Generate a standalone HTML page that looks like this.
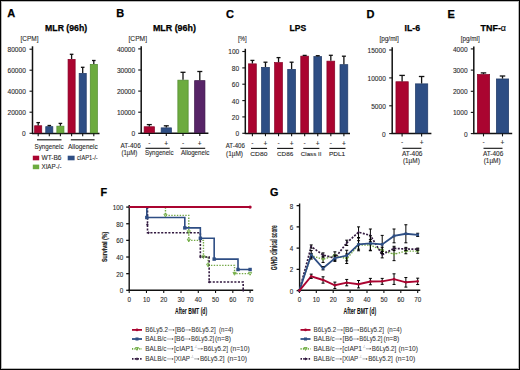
<!DOCTYPE html>
<html><head><meta charset="utf-8"><title>Figure</title>
<style>
html,body{margin:0;padding:0;background:#fff;}
body{width:520px;height:370px;overflow:hidden;}
svg{display:block;font-family:"Liberation Sans", sans-serif;}
</style></head><body>
<svg width="520" height="370" viewBox="0 0 520 370">
<rect x="0" y="0" width="520" height="370" fill="#fff"/>
<text x="7.2" y="17.4" font-size="11" font-weight="bold" fill="#000" stroke="#000" stroke-width="0.25">A</text>
<text x="45.1" y="30.9" font-size="8.6" font-weight="bold" fill="#000" textLength="42" lengthAdjust="spacingAndGlyphs" stroke="#000" stroke-width="0.25">MLR (96h)</text>
<text x="20.5" y="41.4" font-size="6.4" fill="#2a2a2a" textLength="18" lengthAdjust="spacingAndGlyphs" stroke="#2a2a2a" stroke-width="0.1">[CPM]</text>
<line x1="32.5" y1="46.3" x2="32.5" y2="134" stroke="#111" stroke-width="1.5"/>
<line x1="29.5" y1="49.2" x2="32.5" y2="49.2" stroke="#111" stroke-width="1.1"/>
<text x="25.8" y="52.19" font-size="6.4" text-anchor="end" fill="#2a2a2a" textLength="18.3" lengthAdjust="spacingAndGlyphs" stroke="#2a2a2a" stroke-width="0.1">80000</text>
<line x1="29.5" y1="70.2" x2="32.5" y2="70.2" stroke="#111" stroke-width="1.1"/>
<text x="25.8" y="73.19" font-size="6.4" text-anchor="end" fill="#2a2a2a" textLength="18.3" lengthAdjust="spacingAndGlyphs" stroke="#2a2a2a" stroke-width="0.1">60000</text>
<line x1="29.5" y1="91.2" x2="32.5" y2="91.2" stroke="#111" stroke-width="1.1"/>
<text x="25.8" y="94.19" font-size="6.4" text-anchor="end" fill="#2a2a2a" textLength="18.3" lengthAdjust="spacingAndGlyphs" stroke="#2a2a2a" stroke-width="0.1">40000</text>
<line x1="29.5" y1="112.2" x2="32.5" y2="112.2" stroke="#111" stroke-width="1.1"/>
<text x="25.8" y="115.19" font-size="6.4" text-anchor="end" fill="#2a2a2a" textLength="18.3" lengthAdjust="spacingAndGlyphs" stroke="#2a2a2a" stroke-width="0.1">20000</text>
<line x1="29.5" y1="133.3" x2="32.5" y2="133.3" stroke="#111" stroke-width="1.1"/>
<text x="25.8" y="136.29" font-size="6.4" text-anchor="end" fill="#2a2a2a" textLength="3.66" lengthAdjust="spacingAndGlyphs" stroke="#2a2a2a" stroke-width="0.1">0</text>
<line x1="32" y1="133.5" x2="99.5" y2="133.5" stroke="#111" stroke-width="1.5"/>
<rect x="34.65" y="125.75" width="7.1" height="7.15" fill="#aa0430" stroke="#860226" stroke-width="0.7"/>
<line x1="38.2" y1="125.4" x2="38.2" y2="122.6" stroke="#111" stroke-width="1.3"/>
<line x1="36.4" y1="122.6" x2="40" y2="122.6" stroke="#111" stroke-width="1.3"/>
<line x1="38.2" y1="133.5" x2="38.2" y2="136.3" stroke="#111" stroke-width="1.1"/>
<rect x="45.75" y="126.65" width="7.1" height="6.25" fill="#2e4e84" stroke="#203a66" stroke-width="0.7"/>
<line x1="49.3" y1="126.3" x2="49.3" y2="125.5" stroke="#111" stroke-width="1.3"/>
<line x1="47.5" y1="125.5" x2="51.1" y2="125.5" stroke="#111" stroke-width="1.3"/>
<line x1="49.3" y1="133.5" x2="49.3" y2="136.3" stroke="#111" stroke-width="1.1"/>
<rect x="56.85" y="126.15" width="7.1" height="6.75" fill="#6dab3f" stroke="#4f8a2c" stroke-width="0.7"/>
<line x1="60.4" y1="125.8" x2="60.4" y2="123.4" stroke="#111" stroke-width="1.3"/>
<line x1="58.6" y1="123.4" x2="62.2" y2="123.4" stroke="#111" stroke-width="1.3"/>
<line x1="60.4" y1="133.5" x2="60.4" y2="136.3" stroke="#111" stroke-width="1.1"/>
<rect x="68.05" y="59.35" width="7.1" height="73.55" fill="#aa0430" stroke="#860226" stroke-width="0.7"/>
<line x1="71.6" y1="59" x2="71.6" y2="54.3" stroke="#111" stroke-width="1.3"/>
<line x1="69.8" y1="54.3" x2="73.4" y2="54.3" stroke="#111" stroke-width="1.3"/>
<line x1="71.6" y1="133.5" x2="71.6" y2="136.3" stroke="#111" stroke-width="1.1"/>
<rect x="79.15" y="73.35" width="7.1" height="59.55" fill="#2e4e84" stroke="#203a66" stroke-width="0.7"/>
<line x1="82.7" y1="73" x2="82.7" y2="67.3" stroke="#111" stroke-width="1.3"/>
<line x1="80.9" y1="67.3" x2="84.5" y2="67.3" stroke="#111" stroke-width="1.3"/>
<line x1="82.7" y1="133.5" x2="82.7" y2="136.3" stroke="#111" stroke-width="1.1"/>
<rect x="90.25" y="64.35" width="7.1" height="68.55" fill="#6dab3f" stroke="#4f8a2c" stroke-width="0.7"/>
<line x1="93.8" y1="64" x2="93.8" y2="60.5" stroke="#111" stroke-width="1.3"/>
<line x1="92" y1="60.5" x2="95.6" y2="60.5" stroke="#111" stroke-width="1.3"/>
<line x1="93.8" y1="133.5" x2="93.8" y2="136.3" stroke="#111" stroke-width="1.1"/>
<line x1="37" y1="139.8" x2="61.5" y2="139.8" stroke="#111" stroke-width="1.1"/>
<line x1="70.8" y1="139.8" x2="94.6" y2="139.8" stroke="#111" stroke-width="1.1"/>
<text x="34.6" y="148.6" font-size="6.5" fill="#2a2a2a" textLength="28.9" lengthAdjust="spacingAndGlyphs" stroke="#2a2a2a" stroke-width="0.1">Syngeneic</text>
<text x="68" y="148.6" font-size="6.5" fill="#2a2a2a" textLength="29.7" lengthAdjust="spacingAndGlyphs" stroke="#2a2a2a" stroke-width="0.1">Allogeneic</text>
<rect x="32.8" y="155.7" width="6.4" height="4.6" fill="#aa0430"/>
<text x="41.5" y="160.2" font-size="6.6" fill="#2a2a2a" textLength="20" lengthAdjust="spacingAndGlyphs" stroke="#2a2a2a" stroke-width="0.1">WT-B6</text>
<rect x="67.7" y="155.7" width="6.9" height="4.6" fill="#2e4e84"/>
<text x="77" y="160.2" font-size="6.6" fill="#2a2a2a" textLength="20.7" lengthAdjust="spacingAndGlyphs" stroke="#2a2a2a" stroke-width="0.1">cIAP1-/-</text>
<rect x="32.8" y="164.6" width="6.4" height="4.6" fill="#6dab3f"/>
<text x="41.5" y="169" font-size="6.6" fill="#2a2a2a" textLength="20" lengthAdjust="spacingAndGlyphs" stroke="#2a2a2a" stroke-width="0.1">XIAP-/-</text>
<text x="116.2" y="17.4" font-size="11" font-weight="bold" fill="#000" stroke="#000" stroke-width="0.25">B</text>
<text x="152.9" y="31" font-size="8.6" font-weight="bold" fill="#000" textLength="43" lengthAdjust="spacingAndGlyphs" stroke="#000" stroke-width="0.25">MLR (96h)</text>
<text x="128.5" y="41.4" font-size="6.4" fill="#2a2a2a" textLength="18.5" lengthAdjust="spacingAndGlyphs" stroke="#2a2a2a" stroke-width="0.1">[CPM]</text>
<line x1="141.2" y1="46.3" x2="141.2" y2="133.8" stroke="#111" stroke-width="1.5"/>
<line x1="138.2" y1="48.9" x2="141.2" y2="48.9" stroke="#111" stroke-width="1.1"/>
<text x="135.2" y="51.89" font-size="6.4" text-anchor="end" fill="#2a2a2a" textLength="18.3" lengthAdjust="spacingAndGlyphs" stroke="#2a2a2a" stroke-width="0.1">40000</text>
<line x1="138.2" y1="70" x2="141.2" y2="70" stroke="#111" stroke-width="1.1"/>
<text x="135.2" y="72.99" font-size="6.4" text-anchor="end" fill="#2a2a2a" textLength="18.3" lengthAdjust="spacingAndGlyphs" stroke="#2a2a2a" stroke-width="0.1">30000</text>
<line x1="138.2" y1="91.1" x2="141.2" y2="91.1" stroke="#111" stroke-width="1.1"/>
<text x="135.2" y="94.09" font-size="6.4" text-anchor="end" fill="#2a2a2a" textLength="18.3" lengthAdjust="spacingAndGlyphs" stroke="#2a2a2a" stroke-width="0.1">20000</text>
<line x1="138.2" y1="112.2" x2="141.2" y2="112.2" stroke="#111" stroke-width="1.1"/>
<text x="135.2" y="115.19" font-size="6.4" text-anchor="end" fill="#2a2a2a" textLength="18.3" lengthAdjust="spacingAndGlyphs" stroke="#2a2a2a" stroke-width="0.1">10000</text>
<line x1="138.2" y1="133.3" x2="141.2" y2="133.3" stroke="#111" stroke-width="1.1"/>
<text x="135.2" y="136.29" font-size="6.4" text-anchor="end" fill="#2a2a2a" textLength="3.66" lengthAdjust="spacingAndGlyphs" stroke="#2a2a2a" stroke-width="0.1">0</text>
<line x1="140.7" y1="133.3" x2="208.4" y2="133.3" stroke="#111" stroke-width="1.5"/>
<rect x="144.15" y="126.75" width="10.3" height="5.95" fill="#aa0430" stroke="#860226" stroke-width="0.7"/>
<line x1="149.3" y1="126.4" x2="149.3" y2="124.6" stroke="#111" stroke-width="1.3"/>
<line x1="146.8" y1="124.6" x2="151.8" y2="124.6" stroke="#111" stroke-width="1.3"/>
<line x1="149.3" y1="133.3" x2="149.3" y2="136.1" stroke="#111" stroke-width="1.1"/>
<rect x="161.15" y="127.85" width="10.3" height="4.85" fill="#2e4e84" stroke="#203a66" stroke-width="0.7"/>
<line x1="166.3" y1="127.5" x2="166.3" y2="125.8" stroke="#111" stroke-width="1.3"/>
<line x1="163.8" y1="125.8" x2="168.8" y2="125.8" stroke="#111" stroke-width="1.3"/>
<line x1="166.3" y1="133.3" x2="166.3" y2="136.1" stroke="#111" stroke-width="1.1"/>
<rect x="177.85" y="80.15" width="10.3" height="52.55" fill="#6dab3f" stroke="#4f8a2c" stroke-width="0.7"/>
<line x1="183" y1="79.8" x2="183" y2="72.3" stroke="#111" stroke-width="1.3"/>
<line x1="180.5" y1="72.3" x2="185.5" y2="72.3" stroke="#111" stroke-width="1.3"/>
<line x1="183" y1="133.3" x2="183" y2="136.1" stroke="#111" stroke-width="1.1"/>
<rect x="194.65" y="80.65" width="10.3" height="52.05" fill="#572467" stroke="#3a1547" stroke-width="0.7"/>
<line x1="199.8" y1="80.3" x2="199.8" y2="71.5" stroke="#111" stroke-width="1.3"/>
<line x1="197.3" y1="71.5" x2="202.3" y2="71.5" stroke="#111" stroke-width="1.3"/>
<line x1="199.8" y1="133.3" x2="199.8" y2="136.1" stroke="#111" stroke-width="1.1"/>
<text x="120.5" y="147.5" font-size="6.5" fill="#2a2a2a" textLength="20.2" lengthAdjust="spacingAndGlyphs" stroke="#2a2a2a" stroke-width="0.1">AT-406</text>
<text x="121.4" y="155.4" font-size="6.5" fill="#2a2a2a" textLength="15.8" lengthAdjust="spacingAndGlyphs" stroke="#2a2a2a" stroke-width="0.1">(1µM)</text>
<text x="149.3" y="145.4" font-size="6.6" text-anchor="middle" fill="#2a2a2a" stroke="#2a2a2a" stroke-width="0.1">-</text>
<text x="166.3" y="146.3" font-size="6.6" text-anchor="middle" fill="#2a2a2a" stroke="#2a2a2a" stroke-width="0.1">+</text>
<text x="183" y="145.4" font-size="6.6" text-anchor="middle" fill="#2a2a2a" stroke="#2a2a2a" stroke-width="0.1">-</text>
<text x="199.8" y="146.3" font-size="6.6" text-anchor="middle" fill="#2a2a2a" stroke="#2a2a2a" stroke-width="0.1">+</text>
<line x1="145.5" y1="148.3" x2="169.7" y2="148.3" stroke="#111" stroke-width="1.1"/>
<line x1="180.4" y1="148.3" x2="205.2" y2="148.3" stroke="#111" stroke-width="1.1"/>
<text x="145" y="154.5" font-size="6.5" fill="#2a2a2a" textLength="28.5" lengthAdjust="spacingAndGlyphs" stroke="#2a2a2a" stroke-width="0.1">Syngeneic</text>
<text x="180.9" y="154.5" font-size="6.5" fill="#2a2a2a" textLength="28.5" lengthAdjust="spacingAndGlyphs" stroke="#2a2a2a" stroke-width="0.1">Allogeneic</text>
<text x="226" y="17.5" font-size="11" font-weight="bold" fill="#000" stroke="#000" stroke-width="0.25">C</text>
<text x="289.6" y="30.9" font-size="8.6" font-weight="bold" fill="#000" textLength="16.6" lengthAdjust="spacingAndGlyphs" stroke="#000" stroke-width="0.25">LPS</text>
<text x="237.9" y="41.4" font-size="6.4" fill="#2a2a2a" textLength="8.9" lengthAdjust="spacingAndGlyphs" stroke="#2a2a2a" stroke-width="0.1">[%]</text>
<line x1="245.3" y1="48.8" x2="245.3" y2="133.9" stroke="#111" stroke-width="1.5"/>
<line x1="242.3" y1="51.5" x2="245.3" y2="51.5" stroke="#111" stroke-width="1.1"/>
<text x="239.2" y="54.49" font-size="6.4" text-anchor="end" fill="#2a2a2a" textLength="10.98" lengthAdjust="spacingAndGlyphs" stroke="#2a2a2a" stroke-width="0.1">100</text>
<line x1="242.3" y1="67.9" x2="245.3" y2="67.9" stroke="#111" stroke-width="1.1"/>
<text x="239.2" y="70.89" font-size="6.4" text-anchor="end" fill="#2a2a2a" textLength="7.32" lengthAdjust="spacingAndGlyphs" stroke="#2a2a2a" stroke-width="0.1">80</text>
<line x1="242.3" y1="84.2" x2="245.3" y2="84.2" stroke="#111" stroke-width="1.1"/>
<text x="239.2" y="87.19" font-size="6.4" text-anchor="end" fill="#2a2a2a" textLength="7.32" lengthAdjust="spacingAndGlyphs" stroke="#2a2a2a" stroke-width="0.1">60</text>
<line x1="242.3" y1="100.6" x2="245.3" y2="100.6" stroke="#111" stroke-width="1.1"/>
<text x="239.2" y="103.59" font-size="6.4" text-anchor="end" fill="#2a2a2a" textLength="7.32" lengthAdjust="spacingAndGlyphs" stroke="#2a2a2a" stroke-width="0.1">40</text>
<line x1="242.3" y1="116.9" x2="245.3" y2="116.9" stroke="#111" stroke-width="1.1"/>
<text x="239.2" y="119.89" font-size="6.4" text-anchor="end" fill="#2a2a2a" textLength="7.32" lengthAdjust="spacingAndGlyphs" stroke="#2a2a2a" stroke-width="0.1">20</text>
<line x1="242.3" y1="133.3" x2="245.3" y2="133.3" stroke="#111" stroke-width="1.1"/>
<text x="239.2" y="136.29" font-size="6.4" text-anchor="end" fill="#2a2a2a" textLength="3.66" lengthAdjust="spacingAndGlyphs" stroke="#2a2a2a" stroke-width="0.1">0</text>
<line x1="244.8" y1="133.4" x2="350" y2="133.4" stroke="#111" stroke-width="1.5"/>
<rect x="248.5" y="63.85" width="7.8" height="68.95" fill="#aa0430" stroke="#860226" stroke-width="0.7"/>
<line x1="252.4" y1="63.5" x2="252.4" y2="60.4" stroke="#111" stroke-width="1.3"/>
<line x1="250.4" y1="60.4" x2="254.4" y2="60.4" stroke="#111" stroke-width="1.3"/>
<line x1="252.4" y1="133.4" x2="252.4" y2="136.2" stroke="#111" stroke-width="1.1"/>
<rect x="261.57" y="67.35" width="7.8" height="65.45" fill="#2e4e84" stroke="#203a66" stroke-width="0.7"/>
<line x1="265.47" y1="67" x2="265.47" y2="62.2" stroke="#111" stroke-width="1.3"/>
<line x1="263.47" y1="62.2" x2="267.47" y2="62.2" stroke="#111" stroke-width="1.3"/>
<line x1="265.47" y1="133.4" x2="265.47" y2="136.2" stroke="#111" stroke-width="1.1"/>
<rect x="274.64" y="62.55" width="7.8" height="70.25" fill="#aa0430" stroke="#860226" stroke-width="0.7"/>
<line x1="278.54" y1="62.2" x2="278.54" y2="57.6" stroke="#111" stroke-width="1.3"/>
<line x1="276.54" y1="57.6" x2="280.54" y2="57.6" stroke="#111" stroke-width="1.3"/>
<line x1="278.54" y1="133.4" x2="278.54" y2="136.2" stroke="#111" stroke-width="1.1"/>
<rect x="287.71" y="69.35" width="7.8" height="63.45" fill="#2e4e84" stroke="#203a66" stroke-width="0.7"/>
<line x1="291.61" y1="69" x2="291.61" y2="62.2" stroke="#111" stroke-width="1.3"/>
<line x1="289.61" y1="62.2" x2="293.61" y2="62.2" stroke="#111" stroke-width="1.3"/>
<line x1="291.61" y1="133.4" x2="291.61" y2="136.2" stroke="#111" stroke-width="1.1"/>
<rect x="300.78" y="56.15" width="7.8" height="76.65" fill="#aa0430" stroke="#860226" stroke-width="0.7"/>
<line x1="304.68" y1="55.8" x2="304.68" y2="55.4" stroke="#111" stroke-width="1.3"/>
<line x1="302.68" y1="55.4" x2="306.68" y2="55.4" stroke="#111" stroke-width="1.3"/>
<line x1="304.68" y1="133.4" x2="304.68" y2="136.2" stroke="#111" stroke-width="1.1"/>
<rect x="313.85" y="56.55" width="7.8" height="76.25" fill="#2e4e84" stroke="#203a66" stroke-width="0.7"/>
<line x1="317.75" y1="56.2" x2="317.75" y2="55.7" stroke="#111" stroke-width="1.3"/>
<line x1="315.75" y1="55.7" x2="319.75" y2="55.7" stroke="#111" stroke-width="1.3"/>
<line x1="317.75" y1="133.4" x2="317.75" y2="136.2" stroke="#111" stroke-width="1.1"/>
<rect x="326.92" y="61.15" width="7.8" height="71.65" fill="#aa0430" stroke="#860226" stroke-width="0.7"/>
<line x1="330.82" y1="60.8" x2="330.82" y2="55.3" stroke="#111" stroke-width="1.3"/>
<line x1="328.82" y1="55.3" x2="332.82" y2="55.3" stroke="#111" stroke-width="1.3"/>
<line x1="330.82" y1="133.4" x2="330.82" y2="136.2" stroke="#111" stroke-width="1.1"/>
<rect x="339.99" y="64.65" width="7.8" height="68.15" fill="#2e4e84" stroke="#203a66" stroke-width="0.7"/>
<line x1="343.89" y1="64.3" x2="343.89" y2="56.2" stroke="#111" stroke-width="1.3"/>
<line x1="341.89" y1="56.2" x2="345.89" y2="56.2" stroke="#111" stroke-width="1.3"/>
<line x1="343.89" y1="133.4" x2="343.89" y2="136.2" stroke="#111" stroke-width="1.1"/>
<text x="225.7" y="148.1" font-size="6.5" fill="#2a2a2a" textLength="19.2" lengthAdjust="spacingAndGlyphs" stroke="#2a2a2a" stroke-width="0.1">AT-406</text>
<text x="226" y="155.7" font-size="6.5" fill="#2a2a2a" textLength="16.9" lengthAdjust="spacingAndGlyphs" stroke="#2a2a2a" stroke-width="0.1">(1µM)</text>
<text x="252.4" y="144.6" font-size="6.6" text-anchor="middle" fill="#2a2a2a" stroke="#2a2a2a" stroke-width="0.1">-</text>
<text x="265.47" y="145.5" font-size="6.6" text-anchor="middle" fill="#2a2a2a" stroke="#2a2a2a" stroke-width="0.1">+</text>
<text x="278.54" y="144.6" font-size="6.6" text-anchor="middle" fill="#2a2a2a" stroke="#2a2a2a" stroke-width="0.1">-</text>
<text x="291.61" y="145.5" font-size="6.6" text-anchor="middle" fill="#2a2a2a" stroke="#2a2a2a" stroke-width="0.1">+</text>
<text x="304.68" y="144.6" font-size="6.6" text-anchor="middle" fill="#2a2a2a" stroke="#2a2a2a" stroke-width="0.1">-</text>
<text x="317.75" y="145.5" font-size="6.6" text-anchor="middle" fill="#2a2a2a" stroke="#2a2a2a" stroke-width="0.1">+</text>
<text x="330.82" y="144.6" font-size="6.6" text-anchor="middle" fill="#2a2a2a" stroke="#2a2a2a" stroke-width="0.1">-</text>
<text x="343.89" y="145.5" font-size="6.6" text-anchor="middle" fill="#2a2a2a" stroke="#2a2a2a" stroke-width="0.1">+</text>
<line x1="251" y1="148.4" x2="267.07" y2="148.4" stroke="#111" stroke-width="1.1"/>
<line x1="277.14" y1="148.4" x2="293.21" y2="148.4" stroke="#111" stroke-width="1.1"/>
<line x1="303.28" y1="148.4" x2="319.35" y2="148.4" stroke="#111" stroke-width="1.1"/>
<line x1="329.42" y1="148.4" x2="345.49" y2="148.4" stroke="#111" stroke-width="1.1"/>
<text x="250.3" y="155.7" font-size="6.2" fill="#2a2a2a" textLength="17.1" lengthAdjust="spacingAndGlyphs" stroke="#2a2a2a" stroke-width="0.1">CD80</text>
<text x="277" y="155.7" font-size="6.2" fill="#2a2a2a" textLength="16.2" lengthAdjust="spacingAndGlyphs" stroke="#2a2a2a" stroke-width="0.1">CD86</text>
<text x="300.8" y="155.7" font-size="6.2" fill="#2a2a2a" textLength="20.7" lengthAdjust="spacingAndGlyphs" stroke="#2a2a2a" stroke-width="0.1">Class II</text>
<text x="329" y="155.7" font-size="6.2" fill="#2a2a2a" textLength="16.2" lengthAdjust="spacingAndGlyphs" stroke="#2a2a2a" stroke-width="0.1">PDL1</text>
<text x="366.6" y="17.5" font-size="11" font-weight="bold" fill="#000" stroke="#000" stroke-width="0.25">D</text>
<text x="404.5" y="30.9" font-size="8.6" font-weight="bold" fill="#000" textLength="15.5" lengthAdjust="spacingAndGlyphs" stroke="#000" stroke-width="0.25">IL-6</text>
<text x="379.4" y="41.4" font-size="6.4" fill="#2a2a2a" textLength="19.4" lengthAdjust="spacingAndGlyphs" stroke="#2a2a2a" stroke-width="0.1">[pg/ml]</text>
<line x1="392.2" y1="47.2" x2="392.2" y2="134.1" stroke="#111" stroke-width="1.5"/>
<line x1="389.2" y1="50" x2="392.2" y2="50" stroke="#111" stroke-width="1.1"/>
<text x="385.8" y="52.99" font-size="6.4" text-anchor="end" fill="#2a2a2a" textLength="18.3" lengthAdjust="spacingAndGlyphs" stroke="#2a2a2a" stroke-width="0.1">15000</text>
<line x1="389.2" y1="77.9" x2="392.2" y2="77.9" stroke="#111" stroke-width="1.1"/>
<text x="385.8" y="80.89" font-size="6.4" text-anchor="end" fill="#2a2a2a" textLength="18.3" lengthAdjust="spacingAndGlyphs" stroke="#2a2a2a" stroke-width="0.1">10000</text>
<line x1="389.2" y1="105.8" x2="392.2" y2="105.8" stroke="#111" stroke-width="1.1"/>
<text x="385.8" y="108.79" font-size="6.4" text-anchor="end" fill="#2a2a2a" textLength="14.64" lengthAdjust="spacingAndGlyphs" stroke="#2a2a2a" stroke-width="0.1">5000</text>
<line x1="389.2" y1="133.6" x2="392.2" y2="133.6" stroke="#111" stroke-width="1.1"/>
<text x="385.8" y="136.59" font-size="6.4" text-anchor="end" fill="#2a2a2a" textLength="3.66" lengthAdjust="spacingAndGlyphs" stroke="#2a2a2a" stroke-width="0.1">0</text>
<line x1="391.7" y1="133.6" x2="431.4" y2="133.6" stroke="#111" stroke-width="1.5"/>
<rect x="395.95" y="81.75" width="12.3" height="51.25" fill="#aa0430" stroke="#860226" stroke-width="0.7"/>
<line x1="402.1" y1="81.4" x2="402.1" y2="75.4" stroke="#111" stroke-width="1.3"/>
<line x1="399.35" y1="75.4" x2="404.85" y2="75.4" stroke="#111" stroke-width="1.3"/>
<line x1="402.1" y1="133.6" x2="402.1" y2="136.4" stroke="#111" stroke-width="1.1"/>
<rect x="415.45" y="83.85" width="12.3" height="49.15" fill="#2e4e84" stroke="#203a66" stroke-width="0.7"/>
<line x1="421.6" y1="83.5" x2="421.6" y2="76.5" stroke="#111" stroke-width="1.3"/>
<line x1="418.85" y1="76.5" x2="424.35" y2="76.5" stroke="#111" stroke-width="1.3"/>
<line x1="421.6" y1="133.6" x2="421.6" y2="136.4" stroke="#111" stroke-width="1.1"/>
<text x="402.1" y="144.4" font-size="6.6" text-anchor="middle" fill="#2a2a2a" stroke="#2a2a2a" stroke-width="0.1">-</text>
<text x="421.6" y="145.3" font-size="6.6" text-anchor="middle" fill="#2a2a2a" stroke="#2a2a2a" stroke-width="0.1">+</text>
<line x1="402.5" y1="148.3" x2="421.4" y2="148.3" stroke="#111" stroke-width="1.1"/>
<text x="401.9" y="155.8" font-size="6.5" fill="#2a2a2a" textLength="20.6" lengthAdjust="spacingAndGlyphs" stroke="#2a2a2a" stroke-width="0.1">AT-406</text>
<text x="402.9" y="163.2" font-size="6.5" fill="#2a2a2a" textLength="16.9" lengthAdjust="spacingAndGlyphs" stroke="#2a2a2a" stroke-width="0.1">(1µM)</text>
<text x="447.6" y="17.5" font-size="11" font-weight="bold" fill="#000" stroke="#000" stroke-width="0.25">E</text>
<text x="480.6" y="30.9" font-size="8.6" font-weight="bold" fill="#000" textLength="25.4" lengthAdjust="spacingAndGlyphs" stroke="#000" stroke-width="0.25">TNF-<tspan font-weight="normal" stroke-width="0.15">α</tspan></text>
<text x="460.8" y="41.4" font-size="6.4" fill="#2a2a2a" textLength="19" lengthAdjust="spacingAndGlyphs" stroke="#2a2a2a" stroke-width="0.1">[pg/ml]</text>
<line x1="473.8" y1="46.6" x2="473.8" y2="134.1" stroke="#111" stroke-width="1.5"/>
<line x1="470.8" y1="48.9" x2="473.8" y2="48.9" stroke="#111" stroke-width="1.1"/>
<text x="467.6" y="51.89" font-size="6.4" text-anchor="end" fill="#2a2a2a" textLength="14.64" lengthAdjust="spacingAndGlyphs" stroke="#2a2a2a" stroke-width="0.1">4000</text>
<line x1="470.8" y1="70.1" x2="473.8" y2="70.1" stroke="#111" stroke-width="1.1"/>
<text x="467.6" y="73.09" font-size="6.4" text-anchor="end" fill="#2a2a2a" textLength="14.64" lengthAdjust="spacingAndGlyphs" stroke="#2a2a2a" stroke-width="0.1">3000</text>
<line x1="470.8" y1="91.3" x2="473.8" y2="91.3" stroke="#111" stroke-width="1.1"/>
<text x="467.6" y="94.29" font-size="6.4" text-anchor="end" fill="#2a2a2a" textLength="14.64" lengthAdjust="spacingAndGlyphs" stroke="#2a2a2a" stroke-width="0.1">2000</text>
<line x1="470.8" y1="112.4" x2="473.8" y2="112.4" stroke="#111" stroke-width="1.1"/>
<text x="467.6" y="115.39" font-size="6.4" text-anchor="end" fill="#2a2a2a" textLength="14.64" lengthAdjust="spacingAndGlyphs" stroke="#2a2a2a" stroke-width="0.1">1000</text>
<line x1="470.8" y1="133.6" x2="473.8" y2="133.6" stroke="#111" stroke-width="1.1"/>
<text x="467.6" y="136.59" font-size="6.4" text-anchor="end" fill="#2a2a2a" textLength="3.66" lengthAdjust="spacingAndGlyphs" stroke="#2a2a2a" stroke-width="0.1">0</text>
<line x1="473.3" y1="133.6" x2="512.2" y2="133.6" stroke="#111" stroke-width="1.5"/>
<rect x="477.35" y="74.45" width="12.3" height="58.55" fill="#aa0430" stroke="#860226" stroke-width="0.7"/>
<line x1="483.5" y1="74.1" x2="483.5" y2="72.9" stroke="#111" stroke-width="1.3"/>
<line x1="480.75" y1="72.9" x2="486.25" y2="72.9" stroke="#111" stroke-width="1.3"/>
<line x1="483.5" y1="133.6" x2="483.5" y2="136.4" stroke="#111" stroke-width="1.1"/>
<rect x="496.35" y="78.95" width="12.3" height="54.05" fill="#2e4e84" stroke="#203a66" stroke-width="0.7"/>
<line x1="502.5" y1="78.6" x2="502.5" y2="76" stroke="#111" stroke-width="1.3"/>
<line x1="499.75" y1="76" x2="505.25" y2="76" stroke="#111" stroke-width="1.3"/>
<line x1="502.5" y1="133.6" x2="502.5" y2="136.4" stroke="#111" stroke-width="1.1"/>
<text x="483.5" y="144.4" font-size="6.6" text-anchor="middle" fill="#2a2a2a" stroke="#2a2a2a" stroke-width="0.1">-</text>
<text x="502.5" y="145.3" font-size="6.6" text-anchor="middle" fill="#2a2a2a" stroke="#2a2a2a" stroke-width="0.1">+</text>
<line x1="483.5" y1="148.3" x2="502.5" y2="148.3" stroke="#111" stroke-width="1.1"/>
<text x="482.9" y="155.9" font-size="6.5" fill="#2a2a2a" textLength="20.4" lengthAdjust="spacingAndGlyphs" stroke="#2a2a2a" stroke-width="0.1">AT-406</text>
<text x="483.7" y="163.2" font-size="6.5" fill="#2a2a2a" textLength="16.9" lengthAdjust="spacingAndGlyphs" stroke="#2a2a2a" stroke-width="0.1">(1µM)</text>
<text x="100.6" y="196.3" font-size="10.8" font-weight="bold" fill="#000" stroke="#000" stroke-width="0.25">F</text>
<line x1="129.2" y1="205" x2="129.2" y2="291" stroke="#111" stroke-width="1.4"/>
<line x1="126.2" y1="207.1" x2="129.2" y2="207.1" stroke="#111" stroke-width="1.3"/>
<text x="123.2" y="210.1" font-size="6.4" text-anchor="end" fill="#2a2a2a" textLength="10.5" lengthAdjust="spacingAndGlyphs" stroke="#2a2a2a" stroke-width="0.1">100</text>
<line x1="126.2" y1="223.74" x2="129.2" y2="223.74" stroke="#111" stroke-width="1.3"/>
<text x="123.2" y="226.74" font-size="6.4" text-anchor="end" fill="#2a2a2a" textLength="7" lengthAdjust="spacingAndGlyphs" stroke="#2a2a2a" stroke-width="0.1">80</text>
<line x1="126.2" y1="240.38" x2="129.2" y2="240.38" stroke="#111" stroke-width="1.3"/>
<text x="123.2" y="243.38" font-size="6.4" text-anchor="end" fill="#2a2a2a" textLength="7" lengthAdjust="spacingAndGlyphs" stroke="#2a2a2a" stroke-width="0.1">60</text>
<line x1="126.2" y1="257.02" x2="129.2" y2="257.02" stroke="#111" stroke-width="1.3"/>
<text x="123.2" y="260.02" font-size="6.4" text-anchor="end" fill="#2a2a2a" textLength="7" lengthAdjust="spacingAndGlyphs" stroke="#2a2a2a" stroke-width="0.1">40</text>
<line x1="126.2" y1="273.66" x2="129.2" y2="273.66" stroke="#111" stroke-width="1.3"/>
<text x="123.2" y="276.66" font-size="6.4" text-anchor="end" fill="#2a2a2a" textLength="7" lengthAdjust="spacingAndGlyphs" stroke="#2a2a2a" stroke-width="0.1">20</text>
<line x1="126.2" y1="290.3" x2="129.2" y2="290.3" stroke="#111" stroke-width="1.3"/>
<text x="123.2" y="293.3" font-size="6.4" text-anchor="end" fill="#2a2a2a" textLength="3.5" lengthAdjust="spacingAndGlyphs" stroke="#2a2a2a" stroke-width="0.1">0</text>
<line x1="128.7" y1="290.3" x2="253.2" y2="290.3" stroke="#111" stroke-width="1.5"/>
<line x1="129.2" y1="290.3" x2="129.2" y2="293" stroke="#111" stroke-width="1.1"/>
<text x="129.2" y="301.8" font-size="6.4" text-anchor="middle" fill="#2a2a2a" textLength="3.5" lengthAdjust="spacingAndGlyphs" stroke="#2a2a2a" stroke-width="0.1">0</text>
<line x1="146.47" y1="290.3" x2="146.47" y2="293" stroke="#111" stroke-width="1.1"/>
<text x="146.47" y="301.8" font-size="6.4" text-anchor="middle" fill="#2a2a2a" textLength="7" lengthAdjust="spacingAndGlyphs" stroke="#2a2a2a" stroke-width="0.1">10</text>
<line x1="163.74" y1="290.3" x2="163.74" y2="293" stroke="#111" stroke-width="1.1"/>
<text x="163.74" y="301.8" font-size="6.4" text-anchor="middle" fill="#2a2a2a" textLength="7" lengthAdjust="spacingAndGlyphs" stroke="#2a2a2a" stroke-width="0.1">20</text>
<line x1="181.01" y1="290.3" x2="181.01" y2="293" stroke="#111" stroke-width="1.1"/>
<text x="181.01" y="301.8" font-size="6.4" text-anchor="middle" fill="#2a2a2a" textLength="7" lengthAdjust="spacingAndGlyphs" stroke="#2a2a2a" stroke-width="0.1">30</text>
<line x1="198.28" y1="290.3" x2="198.28" y2="293" stroke="#111" stroke-width="1.1"/>
<text x="198.28" y="301.8" font-size="6.4" text-anchor="middle" fill="#2a2a2a" textLength="7" lengthAdjust="spacingAndGlyphs" stroke="#2a2a2a" stroke-width="0.1">40</text>
<line x1="215.55" y1="290.3" x2="215.55" y2="293" stroke="#111" stroke-width="1.1"/>
<text x="215.55" y="301.8" font-size="6.4" text-anchor="middle" fill="#2a2a2a" textLength="7" lengthAdjust="spacingAndGlyphs" stroke="#2a2a2a" stroke-width="0.1">50</text>
<line x1="232.82" y1="290.3" x2="232.82" y2="293" stroke="#111" stroke-width="1.1"/>
<text x="232.82" y="301.8" font-size="6.4" text-anchor="middle" fill="#2a2a2a" textLength="7" lengthAdjust="spacingAndGlyphs" stroke="#2a2a2a" stroke-width="0.1">60</text>
<line x1="250.09" y1="290.3" x2="250.09" y2="293" stroke="#111" stroke-width="1.1"/>
<text x="250.09" y="301.8" font-size="6.4" text-anchor="middle" fill="#2a2a2a" textLength="7" lengthAdjust="spacingAndGlyphs" stroke="#2a2a2a" stroke-width="0.1">70</text>
<text x="175" y="314.2" font-size="8.8" font-weight="bold" fill="#111" textLength="32.1" lengthAdjust="spacingAndGlyphs" stroke="#111" stroke-width="0.1">After BMT (d)</text>
<text transform="translate(106.6 262.1) rotate(-90)" font-size="8" font-weight="bold" fill="#222" stroke="#222" stroke-width="0.2" textLength="30.4" lengthAdjust="spacingAndGlyphs">Survival (%)</text>
<path d="M129.2 207.1 L165.47 207.1 L165.47 215.42 L188.78 215.42 L188.78 240.38 L203.46 240.38 L203.46 257.02 L208.12 257.02 L208.12 265.34 L234.55 265.34 L234.55 273.66 L250.09 273.66" fill="none" stroke="#73a845" stroke-width="1.4" stroke-dasharray="1.4 1.4" stroke-linejoin="miter"/>
<path d="M129.2 207.1 L147.51 207.1 L147.51 232.73 L200.35 232.73 L200.35 257.02 L209.16 257.02 L209.16 281.98 L243.18 281.98 L243.18 290.3" fill="none" stroke="#331a40" stroke-width="1.6" stroke-dasharray="2.1 1.5" stroke-linejoin="miter"/>
<path d="M129.2 207.1 L146.82 207.1 L146.82 217.5 L184.81 217.5 L184.81 227.9 L200.35 227.9 L200.35 238.3 L214.17 238.3 L214.17 259.1 L238 259.1 L238 269.5 L250.09 269.5" fill="none" stroke="#2e4e84" stroke-width="1.6" stroke-linejoin="miter"/>
<rect x="145.11" y="215.79" width="3.42" height="3.42" fill="#2e4e84"/>
<rect x="183.1" y="226.19" width="3.42" height="3.42" fill="#2e4e84"/>
<rect x="198.64" y="236.59" width="3.42" height="3.42" fill="#2e4e84"/>
<rect x="212.46" y="257.39" width="3.42" height="3.42" fill="#2e4e84"/>
<rect x="236.29" y="267.79" width="3.42" height="3.42" fill="#2e4e84"/>
<rect x="248.38" y="267.79" width="3.42" height="3.42" fill="#2e4e84"/>
<path d="M147.33 222.97L148.61 224.57L147.33 226.17L146.05 224.57Z" fill="#331a40"/>
<path d="M148.54 231.13L149.82 232.73L148.54 234.33L147.26 232.73Z" fill="#331a40"/>
<path d="M200.35 255.42L201.63 257.02L200.35 258.62L199.07 257.02Z" fill="#331a40"/>
<path d="M209.16 280.38L210.44 281.98L209.16 283.58L207.88 281.98Z" fill="#331a40"/>
<path d="M243.18 288.7L244.46 290.3L243.18 291.9L241.9 290.3Z" fill="#331a40"/>
<path d="M163.87 214.14L167.07 214.14L165.47 217.02Z" fill="none" stroke="#6dab3f" stroke-width="0.9"/>
<path d="M187.18 230.78L190.38 230.78L188.78 233.66Z" fill="none" stroke="#6dab3f" stroke-width="0.9"/>
<path d="M187.18 239.1L190.38 239.1L188.78 241.98Z" fill="none" stroke="#6dab3f" stroke-width="0.9"/>
<path d="M201.86 255.74L205.06 255.74L203.46 258.62Z" fill="none" stroke="#6dab3f" stroke-width="0.9"/>
<path d="M206.52 264.06L209.72 264.06L208.12 266.94Z" fill="none" stroke="#6dab3f" stroke-width="0.9"/>
<path d="M232.95 272.38L236.15 272.38L234.55 275.26Z" fill="none" stroke="#6dab3f" stroke-width="0.9"/>
<path d="M248.49 272.38L251.69 272.38L250.09 275.26Z" fill="none" stroke="#6dab3f" stroke-width="0.9"/>
<path d="M129.2 207.1 L250.09 207.1" fill="none" stroke="#aa0430" stroke-width="2" stroke-linejoin="miter"/>
<circle cx="250.09" cy="207.1" r="1.62" fill="#aa0430"/>
<line x1="132" y1="329.9" x2="142" y2="329.9" stroke="#aa0430" stroke-width="1.8"/>
<circle cx="137" cy="329.9" r="1.44" fill="#aa0430"/>
<text x="145.3" y="332.2" font-size="6.6" fill="#333" textLength="22.7" lengthAdjust="spacingAndGlyphs" stroke="#333" stroke-width="0.05">B6Ly5.2</text>
<path d="M168.4 329.9H174" stroke="#555" stroke-width="0.5" fill="none"/>
<path d="M173.2 328.9L174.7 329.9L173.2 330.9Z" fill="#555"/>
<text x="174.9" y="332.2" font-size="6.6" fill="#333" textLength="10.1" lengthAdjust="spacingAndGlyphs" stroke="#333" stroke-width="0.05">[B6</text>
<path d="M185.4 329.9H190.3" stroke="#555" stroke-width="0.5" fill="none"/>
<path d="M189.5 328.9L191 329.9L189.5 330.9Z" fill="#555"/>
<text x="191.3" y="332.2" font-size="6.6" fill="#333" textLength="24.4" lengthAdjust="spacingAndGlyphs" stroke="#333" stroke-width="0.05">B6Ly5.2]</text>
<text x="219" y="332.2" font-size="6.6" fill="#333" textLength="14.4" lengthAdjust="spacingAndGlyphs" stroke="#333" stroke-width="0.05">(n=4)</text>
<line x1="132" y1="339" x2="142" y2="339" stroke="#2e4e84" stroke-width="1.8"/>
<rect x="135.48" y="337.48" width="3.04" height="3.04" fill="#2e4e84"/>
<text x="145.3" y="341.3" font-size="6.6" fill="#333" textLength="21.2" lengthAdjust="spacingAndGlyphs" stroke="#333" stroke-width="0.05">BALB/c</text>
<path d="M166.9 339H173" stroke="#555" stroke-width="0.5" fill="none"/>
<path d="M172.2 338L173.7 339L172.2 340Z" fill="#555"/>
<text x="174.2" y="341.3" font-size="6.6" fill="#333" textLength="10.3" lengthAdjust="spacingAndGlyphs" stroke="#333" stroke-width="0.05">[B6</text>
<path d="M184.9 339H190" stroke="#555" stroke-width="0.5" fill="none"/>
<path d="M189.2 338L190.7 339L189.2 340Z" fill="#555"/>
<text x="191" y="341.3" font-size="6.6" fill="#333" textLength="23.2" lengthAdjust="spacingAndGlyphs" stroke="#333" stroke-width="0.05">B6Ly5.2]</text>
<text x="215.1" y="341.3" font-size="6.6" fill="#333" textLength="15.9" lengthAdjust="spacingAndGlyphs" stroke="#333" stroke-width="0.05">(n=8)</text>
<line x1="132" y1="348.8" x2="142" y2="348.8" stroke="#6dab3f" stroke-width="1.8" stroke-dasharray="1.2 1.2"/>
<path d="M135.4 347.52L138.6 347.52L137 350.4Z" fill="none" stroke="#6dab3f" stroke-width="0.9"/>
<text x="145.3" y="351.1" font-size="6.6" fill="#333" textLength="21.2" lengthAdjust="spacingAndGlyphs" stroke="#333" stroke-width="0.05">BALB/c</text>
<path d="M167.1 348.8H173" stroke="#555" stroke-width="0.5" fill="none"/>
<path d="M172.2 347.8L173.7 348.8L172.2 349.8Z" fill="#555"/>
<text x="174" y="351.1" font-size="6.6" fill="#333" textLength="19.8" lengthAdjust="spacingAndGlyphs" stroke="#333" stroke-width="0.05">[cIAP1</text>
<text x="194.6" y="347.9" font-size="3.4" fill="#555" textLength="2.6" lengthAdjust="spacingAndGlyphs">-/-</text>
<path d="M197.6 348.8H202.3" stroke="#555" stroke-width="0.5" fill="none"/>
<path d="M201.5 347.8L203 348.8L201.5 349.8Z" fill="#555"/>
<text x="203.5" y="351.1" font-size="6.6" fill="#333" textLength="24.5" lengthAdjust="spacingAndGlyphs" stroke="#333" stroke-width="0.05">B6Ly5.2]</text>
<text x="230.2" y="351.1" font-size="6.6" fill="#333" textLength="19.6" lengthAdjust="spacingAndGlyphs" stroke="#333" stroke-width="0.05">(n=10)</text>
<line x1="132" y1="358.9" x2="142" y2="358.9" stroke="#331a40" stroke-width="1.8" stroke-dasharray="1.5 1.2"/>
<path d="M137 357.3L138.28 358.9L137 360.5L135.72 358.9Z" fill="#331a40"/>
<text x="145.3" y="361.2" font-size="6.6" fill="#333" textLength="21.2" lengthAdjust="spacingAndGlyphs" stroke="#333" stroke-width="0.05">BALB/c</text>
<path d="M167.1 358.9H173" stroke="#555" stroke-width="0.5" fill="none"/>
<path d="M172.2 357.9L173.7 358.9L172.2 359.9Z" fill="#555"/>
<text x="174" y="361.2" font-size="6.6" fill="#333" textLength="16" lengthAdjust="spacingAndGlyphs" stroke="#333" stroke-width="0.05">[XIAP</text>
<text x="191" y="358" font-size="3.4" fill="#555" textLength="2.6" lengthAdjust="spacingAndGlyphs">-/-</text>
<path d="M194.2 358.9H198.7" stroke="#555" stroke-width="0.5" fill="none"/>
<path d="M197.9 357.9L199.4 358.9L197.9 359.9Z" fill="#555"/>
<text x="199.9" y="361.2" font-size="6.6" fill="#333" textLength="24.5" lengthAdjust="spacingAndGlyphs" stroke="#333" stroke-width="0.05">B6Ly5.2]</text>
<text x="227.2" y="361.2" font-size="6.6" fill="#333" textLength="19.9" lengthAdjust="spacingAndGlyphs" stroke="#333" stroke-width="0.05">(n=10)</text>
<text x="270.1" y="196.3" font-size="10.8" font-weight="bold" fill="#000" stroke="#000" stroke-width="0.25">G</text>
<line x1="299.6" y1="203.5" x2="299.6" y2="290.8" stroke="#111" stroke-width="1.4"/>
<line x1="296.6" y1="205.64" x2="299.6" y2="205.64" stroke="#111" stroke-width="1.3"/>
<text x="293.2" y="208.64" font-size="6.4" text-anchor="end" fill="#2a2a2a" textLength="3.5" lengthAdjust="spacingAndGlyphs" stroke="#2a2a2a" stroke-width="0.1">8</text>
<line x1="296.6" y1="226.88" x2="299.6" y2="226.88" stroke="#111" stroke-width="1.3"/>
<text x="293.2" y="229.88" font-size="6.4" text-anchor="end" fill="#2a2a2a" textLength="3.5" lengthAdjust="spacingAndGlyphs" stroke="#2a2a2a" stroke-width="0.1">6</text>
<line x1="296.6" y1="248.12" x2="299.6" y2="248.12" stroke="#111" stroke-width="1.3"/>
<text x="293.2" y="251.12" font-size="6.4" text-anchor="end" fill="#2a2a2a" textLength="3.5" lengthAdjust="spacingAndGlyphs" stroke="#2a2a2a" stroke-width="0.1">4</text>
<line x1="296.6" y1="269.36" x2="299.6" y2="269.36" stroke="#111" stroke-width="1.3"/>
<text x="293.2" y="272.36" font-size="6.4" text-anchor="end" fill="#2a2a2a" textLength="3.5" lengthAdjust="spacingAndGlyphs" stroke="#2a2a2a" stroke-width="0.1">2</text>
<line x1="296.6" y1="290.6" x2="299.6" y2="290.6" stroke="#111" stroke-width="1.3"/>
<text x="293.2" y="293.6" font-size="6.4" text-anchor="end" fill="#2a2a2a" textLength="3.5" lengthAdjust="spacingAndGlyphs" stroke="#2a2a2a" stroke-width="0.1">0</text>
<line x1="299.1" y1="290.3" x2="420.3" y2="290.3" stroke="#111" stroke-width="1.5"/>
<line x1="299.4" y1="290.4" x2="299.4" y2="293.1" stroke="#111" stroke-width="1.1"/>
<text x="299.4" y="301.9" font-size="6.4" text-anchor="middle" fill="#2a2a2a" textLength="3.5" lengthAdjust="spacingAndGlyphs" stroke="#2a2a2a" stroke-width="0.1">0</text>
<line x1="316.3" y1="290.4" x2="316.3" y2="293.1" stroke="#111" stroke-width="1.1"/>
<text x="316.3" y="301.9" font-size="6.4" text-anchor="middle" fill="#2a2a2a" textLength="7" lengthAdjust="spacingAndGlyphs" stroke="#2a2a2a" stroke-width="0.1">10</text>
<line x1="333.2" y1="290.4" x2="333.2" y2="293.1" stroke="#111" stroke-width="1.1"/>
<text x="333.2" y="301.9" font-size="6.4" text-anchor="middle" fill="#2a2a2a" textLength="7" lengthAdjust="spacingAndGlyphs" stroke="#2a2a2a" stroke-width="0.1">20</text>
<line x1="350.1" y1="290.4" x2="350.1" y2="293.1" stroke="#111" stroke-width="1.1"/>
<text x="350.1" y="301.9" font-size="6.4" text-anchor="middle" fill="#2a2a2a" textLength="7" lengthAdjust="spacingAndGlyphs" stroke="#2a2a2a" stroke-width="0.1">30</text>
<line x1="367" y1="290.4" x2="367" y2="293.1" stroke="#111" stroke-width="1.1"/>
<text x="367" y="301.9" font-size="6.4" text-anchor="middle" fill="#2a2a2a" textLength="7" lengthAdjust="spacingAndGlyphs" stroke="#2a2a2a" stroke-width="0.1">40</text>
<line x1="383.9" y1="290.4" x2="383.9" y2="293.1" stroke="#111" stroke-width="1.1"/>
<text x="383.9" y="301.9" font-size="6.4" text-anchor="middle" fill="#2a2a2a" textLength="7" lengthAdjust="spacingAndGlyphs" stroke="#2a2a2a" stroke-width="0.1">50</text>
<line x1="400.8" y1="290.4" x2="400.8" y2="293.1" stroke="#111" stroke-width="1.1"/>
<text x="400.8" y="301.9" font-size="6.4" text-anchor="middle" fill="#2a2a2a" textLength="7" lengthAdjust="spacingAndGlyphs" stroke="#2a2a2a" stroke-width="0.1">60</text>
<line x1="417.7" y1="290.4" x2="417.7" y2="293.1" stroke="#111" stroke-width="1.1"/>
<text x="417.7" y="301.9" font-size="6.4" text-anchor="middle" fill="#2a2a2a" textLength="7" lengthAdjust="spacingAndGlyphs" stroke="#2a2a2a" stroke-width="0.1">70</text>
<text x="343.6" y="314.2" font-size="8.8" font-weight="bold" fill="#111" textLength="32.6" lengthAdjust="spacingAndGlyphs" stroke="#111" stroke-width="0.1">After BMT (d)</text>
<text transform="translate(277.2 270.0) rotate(-90)" font-size="9.4" font-weight="bold" fill="#222" stroke="#222" stroke-width="0.2" textLength="44.7" lengthAdjust="spacingAndGlyphs">GVHD clinical score</text>
<path d="M299.4 290.6 L311.23 255.55 L323.06 259.27 L334.89 255.55 L346.72 258.74 L358.55 244.93 L370.38 244.93 L382.21 250.46 L394.04 254.28 L405.87 251.09 L417.7 251.09" fill="none" stroke="#73a845" stroke-width="1.4" stroke-dasharray="1.4 1.4" stroke-linejoin="miter"/>
<path d="M298 289.48L300.8 289.48L299.4 292Z" fill="none" stroke="#73a845" stroke-width="0.9"/>
<line x1="311.23" y1="253.43" x2="311.23" y2="257.68" stroke="#000" stroke-width="1"/>
<line x1="309.73" y1="253.43" x2="312.73" y2="253.43" stroke="#000" stroke-width="1"/>
<line x1="309.73" y1="257.68" x2="312.73" y2="257.68" stroke="#000" stroke-width="1"/>
<path d="M309.83 254.43L312.63 254.43L311.23 256.95Z" fill="none" stroke="#73a845" stroke-width="0.9"/>
<line x1="323.06" y1="256.09" x2="323.06" y2="262.46" stroke="#000" stroke-width="1"/>
<line x1="321.56" y1="256.09" x2="324.56" y2="256.09" stroke="#000" stroke-width="1"/>
<line x1="321.56" y1="262.46" x2="324.56" y2="262.46" stroke="#000" stroke-width="1"/>
<path d="M321.66 258.15L324.46 258.15L323.06 260.67Z" fill="none" stroke="#73a845" stroke-width="0.9"/>
<line x1="334.89" y1="251.84" x2="334.89" y2="259.27" stroke="#000" stroke-width="1"/>
<line x1="333.39" y1="251.84" x2="336.39" y2="251.84" stroke="#000" stroke-width="1"/>
<line x1="333.39" y1="259.27" x2="336.39" y2="259.27" stroke="#000" stroke-width="1"/>
<path d="M333.49 254.43L336.29 254.43L334.89 256.95Z" fill="none" stroke="#73a845" stroke-width="0.9"/>
<line x1="346.72" y1="253.96" x2="346.72" y2="263.52" stroke="#000" stroke-width="1"/>
<line x1="345.22" y1="253.96" x2="348.22" y2="253.96" stroke="#000" stroke-width="1"/>
<line x1="345.22" y1="263.52" x2="348.22" y2="263.52" stroke="#000" stroke-width="1"/>
<path d="M345.32 257.62L348.12 257.62L346.72 260.14Z" fill="none" stroke="#73a845" stroke-width="0.9"/>
<line x1="358.55" y1="240.69" x2="358.55" y2="249.18" stroke="#000" stroke-width="1"/>
<line x1="357.05" y1="240.69" x2="360.05" y2="240.69" stroke="#000" stroke-width="1"/>
<line x1="357.05" y1="249.18" x2="360.05" y2="249.18" stroke="#000" stroke-width="1"/>
<path d="M357.15 243.81L359.95 243.81L358.55 246.33Z" fill="none" stroke="#73a845" stroke-width="0.9"/>
<line x1="370.38" y1="239.62" x2="370.38" y2="250.24" stroke="#000" stroke-width="1"/>
<line x1="368.88" y1="239.62" x2="371.88" y2="239.62" stroke="#000" stroke-width="1"/>
<line x1="368.88" y1="250.24" x2="371.88" y2="250.24" stroke="#000" stroke-width="1"/>
<path d="M368.98 243.81L371.78 243.81L370.38 246.33Z" fill="none" stroke="#73a845" stroke-width="0.9"/>
<line x1="382.21" y1="247.27" x2="382.21" y2="253.64" stroke="#000" stroke-width="1"/>
<line x1="380.71" y1="247.27" x2="383.71" y2="247.27" stroke="#000" stroke-width="1"/>
<line x1="380.71" y1="253.64" x2="383.71" y2="253.64" stroke="#000" stroke-width="1"/>
<path d="M380.81 249.34L383.61 249.34L382.21 251.86Z" fill="none" stroke="#73a845" stroke-width="0.9"/>
<line x1="394.04" y1="247.91" x2="394.04" y2="260.65" stroke="#000" stroke-width="1"/>
<line x1="392.54" y1="247.91" x2="395.54" y2="247.91" stroke="#000" stroke-width="1"/>
<line x1="392.54" y1="260.65" x2="395.54" y2="260.65" stroke="#000" stroke-width="1"/>
<path d="M392.64 253.16L395.44 253.16L394.04 255.68Z" fill="none" stroke="#73a845" stroke-width="0.9"/>
<line x1="405.87" y1="248.44" x2="405.87" y2="253.75" stroke="#000" stroke-width="1"/>
<line x1="404.37" y1="248.44" x2="407.37" y2="248.44" stroke="#000" stroke-width="1"/>
<line x1="404.37" y1="253.75" x2="407.37" y2="253.75" stroke="#000" stroke-width="1"/>
<path d="M404.47 249.97L407.27 249.97L405.87 252.49Z" fill="none" stroke="#73a845" stroke-width="0.9"/>
<line x1="417.7" y1="248.97" x2="417.7" y2="253.22" stroke="#000" stroke-width="1"/>
<line x1="416.2" y1="248.97" x2="419.2" y2="248.97" stroke="#000" stroke-width="1"/>
<line x1="416.2" y1="253.22" x2="419.2" y2="253.22" stroke="#000" stroke-width="1"/>
<path d="M416.3 249.97L419.1 249.97L417.7 252.49Z" fill="none" stroke="#73a845" stroke-width="0.9"/>
<path d="M299.4 290.6 L311.23 246.53 L323.06 255.02 L334.89 258.21 L346.72 242.81 L358.55 232.19 L370.38 235.38 L382.21 254.7 L394.04 248.44 L405.87 248.97 L417.7 249.18" fill="none" stroke="#331a40" stroke-width="1.7" stroke-dasharray="2 1.4" stroke-linejoin="miter"/>
<path d="M299.4 289.2L300.52 290.6L299.4 292L298.28 290.6Z" fill="#331a40"/>
<line x1="311.23" y1="244.93" x2="311.23" y2="248.12" stroke="#000" stroke-width="1"/>
<line x1="309.73" y1="244.93" x2="312.73" y2="244.93" stroke="#000" stroke-width="1"/>
<line x1="309.73" y1="248.12" x2="312.73" y2="248.12" stroke="#000" stroke-width="1"/>
<path d="M311.23 245.13L312.35 246.53L311.23 247.93L310.11 246.53Z" fill="#331a40"/>
<line x1="323.06" y1="252.9" x2="323.06" y2="257.15" stroke="#000" stroke-width="1"/>
<line x1="321.56" y1="252.9" x2="324.56" y2="252.9" stroke="#000" stroke-width="1"/>
<line x1="321.56" y1="257.15" x2="324.56" y2="257.15" stroke="#000" stroke-width="1"/>
<path d="M323.06 253.62L324.18 255.02L323.06 256.42L321.94 255.02Z" fill="#331a40"/>
<line x1="334.89" y1="256.09" x2="334.89" y2="260.33" stroke="#000" stroke-width="1"/>
<line x1="333.39" y1="256.09" x2="336.39" y2="256.09" stroke="#000" stroke-width="1"/>
<line x1="333.39" y1="260.33" x2="336.39" y2="260.33" stroke="#000" stroke-width="1"/>
<path d="M334.89 256.81L336.01 258.21L334.89 259.61L333.77 258.21Z" fill="#331a40"/>
<line x1="346.72" y1="240.16" x2="346.72" y2="245.47" stroke="#000" stroke-width="1"/>
<line x1="345.22" y1="240.16" x2="348.22" y2="240.16" stroke="#000" stroke-width="1"/>
<line x1="345.22" y1="245.47" x2="348.22" y2="245.47" stroke="#000" stroke-width="1"/>
<path d="M346.72 241.41L347.84 242.81L346.72 244.21L345.6 242.81Z" fill="#331a40"/>
<line x1="358.55" y1="226.88" x2="358.55" y2="237.5" stroke="#000" stroke-width="1"/>
<line x1="357.05" y1="226.88" x2="360.05" y2="226.88" stroke="#000" stroke-width="1"/>
<line x1="357.05" y1="237.5" x2="360.05" y2="237.5" stroke="#000" stroke-width="1"/>
<path d="M358.55 230.79L359.67 232.19L358.55 233.59L357.43 232.19Z" fill="#331a40"/>
<line x1="370.38" y1="229" x2="370.38" y2="241.75" stroke="#000" stroke-width="1"/>
<line x1="368.88" y1="229" x2="371.88" y2="229" stroke="#000" stroke-width="1"/>
<line x1="368.88" y1="241.75" x2="371.88" y2="241.75" stroke="#000" stroke-width="1"/>
<path d="M370.38 233.98L371.5 235.38L370.38 236.78L369.26 235.38Z" fill="#331a40"/>
<line x1="382.21" y1="251.52" x2="382.21" y2="257.89" stroke="#000" stroke-width="1"/>
<line x1="380.71" y1="251.52" x2="383.71" y2="251.52" stroke="#000" stroke-width="1"/>
<line x1="380.71" y1="257.89" x2="383.71" y2="257.89" stroke="#000" stroke-width="1"/>
<path d="M382.21 253.3L383.33 254.7L382.21 256.1L381.09 254.7Z" fill="#331a40"/>
<line x1="394.04" y1="246.31" x2="394.04" y2="250.56" stroke="#000" stroke-width="1"/>
<line x1="392.54" y1="246.31" x2="395.54" y2="246.31" stroke="#000" stroke-width="1"/>
<line x1="392.54" y1="250.56" x2="395.54" y2="250.56" stroke="#000" stroke-width="1"/>
<path d="M394.04 247.04L395.16 248.44L394.04 249.84L392.92 248.44Z" fill="#331a40"/>
<line x1="405.87" y1="247.38" x2="405.87" y2="250.56" stroke="#000" stroke-width="1"/>
<line x1="404.37" y1="247.38" x2="407.37" y2="247.38" stroke="#000" stroke-width="1"/>
<line x1="404.37" y1="250.56" x2="407.37" y2="250.56" stroke="#000" stroke-width="1"/>
<path d="M405.87 247.57L406.99 248.97L405.87 250.37L404.75 248.97Z" fill="#331a40"/>
<line x1="417.7" y1="248.12" x2="417.7" y2="250.24" stroke="#000" stroke-width="1"/>
<line x1="416.2" y1="248.12" x2="419.2" y2="248.12" stroke="#000" stroke-width="1"/>
<line x1="416.2" y1="250.24" x2="419.2" y2="250.24" stroke="#000" stroke-width="1"/>
<path d="M417.7 247.78L418.82 249.18L417.7 250.58L416.58 249.18Z" fill="#331a40"/>
<path d="M299.4 290.6 L311.23 254.81 L323.06 268.3 L334.89 258.21 L346.72 255.55 L358.55 244.4 L370.38 243.34 L382.21 244.4 L394.04 235.91 L405.87 233.78 L417.7 234.85" fill="none" stroke="#2e4e84" stroke-width="1.8" stroke-linejoin="miter"/>
<rect x="298.07" y="289.27" width="2.66" height="2.66" fill="#2e4e84"/>
<line x1="311.23" y1="250.56" x2="311.23" y2="259.06" stroke="#000" stroke-width="1"/>
<line x1="309.73" y1="250.56" x2="312.73" y2="250.56" stroke="#000" stroke-width="1"/>
<line x1="309.73" y1="259.06" x2="312.73" y2="259.06" stroke="#000" stroke-width="1"/>
<rect x="309.9" y="253.48" width="2.66" height="2.66" fill="#2e4e84"/>
<line x1="323.06" y1="266.71" x2="323.06" y2="269.89" stroke="#000" stroke-width="1"/>
<line x1="321.56" y1="266.71" x2="324.56" y2="266.71" stroke="#000" stroke-width="1"/>
<line x1="321.56" y1="269.89" x2="324.56" y2="269.89" stroke="#000" stroke-width="1"/>
<rect x="321.73" y="266.97" width="2.66" height="2.66" fill="#2e4e84"/>
<line x1="334.89" y1="255.02" x2="334.89" y2="261.4" stroke="#000" stroke-width="1"/>
<line x1="333.39" y1="255.02" x2="336.39" y2="255.02" stroke="#000" stroke-width="1"/>
<line x1="333.39" y1="261.4" x2="336.39" y2="261.4" stroke="#000" stroke-width="1"/>
<rect x="333.56" y="256.88" width="2.66" height="2.66" fill="#2e4e84"/>
<line x1="346.72" y1="250.24" x2="346.72" y2="260.86" stroke="#000" stroke-width="1"/>
<line x1="345.22" y1="250.24" x2="348.22" y2="250.24" stroke="#000" stroke-width="1"/>
<line x1="345.22" y1="260.86" x2="348.22" y2="260.86" stroke="#000" stroke-width="1"/>
<rect x="345.39" y="254.22" width="2.66" height="2.66" fill="#2e4e84"/>
<line x1="358.55" y1="238.03" x2="358.55" y2="250.78" stroke="#000" stroke-width="1"/>
<line x1="357.05" y1="238.03" x2="360.05" y2="238.03" stroke="#000" stroke-width="1"/>
<line x1="357.05" y1="250.78" x2="360.05" y2="250.78" stroke="#000" stroke-width="1"/>
<rect x="357.22" y="243.07" width="2.66" height="2.66" fill="#2e4e84"/>
<line x1="370.38" y1="235.91" x2="370.38" y2="250.78" stroke="#000" stroke-width="1"/>
<line x1="368.88" y1="235.91" x2="371.88" y2="235.91" stroke="#000" stroke-width="1"/>
<line x1="368.88" y1="250.78" x2="371.88" y2="250.78" stroke="#000" stroke-width="1"/>
<rect x="369.05" y="242.01" width="2.66" height="2.66" fill="#2e4e84"/>
<line x1="382.21" y1="235.38" x2="382.21" y2="253.43" stroke="#000" stroke-width="1"/>
<line x1="380.71" y1="235.38" x2="383.71" y2="235.38" stroke="#000" stroke-width="1"/>
<line x1="380.71" y1="253.43" x2="383.71" y2="253.43" stroke="#000" stroke-width="1"/>
<rect x="380.88" y="243.07" width="2.66" height="2.66" fill="#2e4e84"/>
<line x1="394.04" y1="229" x2="394.04" y2="242.81" stroke="#000" stroke-width="1"/>
<line x1="392.54" y1="229" x2="395.54" y2="229" stroke="#000" stroke-width="1"/>
<line x1="392.54" y1="242.81" x2="395.54" y2="242.81" stroke="#000" stroke-width="1"/>
<rect x="392.71" y="234.58" width="2.66" height="2.66" fill="#2e4e84"/>
<line x1="405.87" y1="224.76" x2="405.87" y2="242.81" stroke="#000" stroke-width="1"/>
<line x1="404.37" y1="224.76" x2="407.37" y2="224.76" stroke="#000" stroke-width="1"/>
<line x1="404.37" y1="242.81" x2="407.37" y2="242.81" stroke="#000" stroke-width="1"/>
<rect x="404.54" y="232.45" width="2.66" height="2.66" fill="#2e4e84"/>
<line x1="417.7" y1="233.25" x2="417.7" y2="236.44" stroke="#000" stroke-width="1"/>
<line x1="416.2" y1="233.25" x2="419.2" y2="233.25" stroke="#000" stroke-width="1"/>
<line x1="416.2" y1="236.44" x2="419.2" y2="236.44" stroke="#000" stroke-width="1"/>
<rect x="416.37" y="233.52" width="2.66" height="2.66" fill="#2e4e84"/>
<path d="M299.4 290.6 L311.23 276.26 L323.06 279.98 L334.89 285.29 L346.72 282.64 L358.55 284.23 L370.38 281.57 L382.21 281.36 L394.04 279.13 L405.87 282.32 L417.7 281.36" fill="none" stroke="#aa0430" stroke-width="1.9" stroke-linejoin="miter"/>
<circle cx="299.4" cy="290.6" r="1.26" fill="#aa0430"/>
<line x1="311.23" y1="274.14" x2="311.23" y2="278.39" stroke="#000" stroke-width="1"/>
<line x1="309.73" y1="274.14" x2="312.73" y2="274.14" stroke="#000" stroke-width="1"/>
<line x1="309.73" y1="278.39" x2="312.73" y2="278.39" stroke="#000" stroke-width="1"/>
<circle cx="311.23" cy="276.26" r="1.26" fill="#aa0430"/>
<line x1="323.06" y1="276.79" x2="323.06" y2="283.17" stroke="#000" stroke-width="1"/>
<line x1="321.56" y1="276.79" x2="324.56" y2="276.79" stroke="#000" stroke-width="1"/>
<line x1="321.56" y1="283.17" x2="324.56" y2="283.17" stroke="#000" stroke-width="1"/>
<circle cx="323.06" cy="279.98" r="1.26" fill="#aa0430"/>
<line x1="334.89" y1="282.1" x2="334.89" y2="288.48" stroke="#000" stroke-width="1"/>
<line x1="333.39" y1="282.1" x2="336.39" y2="282.1" stroke="#000" stroke-width="1"/>
<line x1="333.39" y1="288.48" x2="336.39" y2="288.48" stroke="#000" stroke-width="1"/>
<circle cx="334.89" cy="285.29" r="1.26" fill="#aa0430"/>
<line x1="346.72" y1="279.45" x2="346.72" y2="285.82" stroke="#000" stroke-width="1"/>
<line x1="345.22" y1="279.45" x2="348.22" y2="279.45" stroke="#000" stroke-width="1"/>
<line x1="345.22" y1="285.82" x2="348.22" y2="285.82" stroke="#000" stroke-width="1"/>
<circle cx="346.72" cy="282.64" r="1.26" fill="#aa0430"/>
<line x1="358.55" y1="280.51" x2="358.55" y2="287.95" stroke="#000" stroke-width="1"/>
<line x1="357.05" y1="280.51" x2="360.05" y2="280.51" stroke="#000" stroke-width="1"/>
<line x1="357.05" y1="287.95" x2="360.05" y2="287.95" stroke="#000" stroke-width="1"/>
<circle cx="358.55" cy="284.23" r="1.26" fill="#aa0430"/>
<line x1="370.38" y1="278.39" x2="370.38" y2="284.76" stroke="#000" stroke-width="1"/>
<line x1="368.88" y1="278.39" x2="371.88" y2="278.39" stroke="#000" stroke-width="1"/>
<line x1="368.88" y1="284.76" x2="371.88" y2="284.76" stroke="#000" stroke-width="1"/>
<circle cx="370.38" cy="281.57" r="1.26" fill="#aa0430"/>
<line x1="382.21" y1="278.39" x2="382.21" y2="284.33" stroke="#000" stroke-width="1"/>
<line x1="380.71" y1="278.39" x2="383.71" y2="278.39" stroke="#000" stroke-width="1"/>
<line x1="380.71" y1="284.33" x2="383.71" y2="284.33" stroke="#000" stroke-width="1"/>
<circle cx="382.21" cy="281.36" r="1.26" fill="#aa0430"/>
<line x1="394.04" y1="273.82" x2="394.04" y2="284.44" stroke="#000" stroke-width="1"/>
<line x1="392.54" y1="273.82" x2="395.54" y2="273.82" stroke="#000" stroke-width="1"/>
<line x1="392.54" y1="284.44" x2="395.54" y2="284.44" stroke="#000" stroke-width="1"/>
<circle cx="394.04" cy="279.13" r="1.26" fill="#aa0430"/>
<line x1="405.87" y1="277.54" x2="405.87" y2="287.1" stroke="#000" stroke-width="1"/>
<line x1="404.37" y1="277.54" x2="407.37" y2="277.54" stroke="#000" stroke-width="1"/>
<line x1="404.37" y1="287.1" x2="407.37" y2="287.1" stroke="#000" stroke-width="1"/>
<circle cx="405.87" cy="282.32" r="1.26" fill="#aa0430"/>
<line x1="417.7" y1="278.17" x2="417.7" y2="284.55" stroke="#000" stroke-width="1"/>
<line x1="416.2" y1="278.17" x2="419.2" y2="278.17" stroke="#000" stroke-width="1"/>
<line x1="416.2" y1="284.55" x2="419.2" y2="284.55" stroke="#000" stroke-width="1"/>
<circle cx="417.7" cy="281.36" r="1.26" fill="#aa0430"/>
<line x1="300.5" y1="329.9" x2="310.5" y2="329.9" stroke="#aa0430" stroke-width="1.8"/>
<circle cx="305.5" cy="329.9" r="1.44" fill="#aa0430"/>
<text x="313.6" y="332.2" font-size="6.6" fill="#333" textLength="22.7" lengthAdjust="spacingAndGlyphs" stroke="#333" stroke-width="0.05">B6Ly5.2</text>
<path d="M336.7 329.9H342.3" stroke="#555" stroke-width="0.5" fill="none"/>
<path d="M341.5 328.9L343 329.9L341.5 330.9Z" fill="#555"/>
<text x="343.2" y="332.2" font-size="6.6" fill="#333" textLength="10.1" lengthAdjust="spacingAndGlyphs" stroke="#333" stroke-width="0.05">[B6</text>
<path d="M353.7 329.9H358.6" stroke="#555" stroke-width="0.5" fill="none"/>
<path d="M357.8 328.9L359.3 329.9L357.8 330.9Z" fill="#555"/>
<text x="359.6" y="332.2" font-size="6.6" fill="#333" textLength="24.4" lengthAdjust="spacingAndGlyphs" stroke="#333" stroke-width="0.05">B6Ly5.2]</text>
<text x="387.3" y="332.2" font-size="6.6" fill="#333" textLength="14.4" lengthAdjust="spacingAndGlyphs" stroke="#333" stroke-width="0.05">(n=4)</text>
<line x1="300.5" y1="339" x2="310.5" y2="339" stroke="#2e4e84" stroke-width="1.8"/>
<rect x="303.98" y="337.48" width="3.04" height="3.04" fill="#2e4e84"/>
<text x="313.6" y="341.3" font-size="6.6" fill="#333" textLength="21.2" lengthAdjust="spacingAndGlyphs" stroke="#333" stroke-width="0.05">BALB/c</text>
<path d="M335.2 339H341.3" stroke="#555" stroke-width="0.5" fill="none"/>
<path d="M340.5 338L342 339L340.5 340Z" fill="#555"/>
<text x="342.5" y="341.3" font-size="6.6" fill="#333" textLength="10.3" lengthAdjust="spacingAndGlyphs" stroke="#333" stroke-width="0.05">[B6</text>
<path d="M353.2 339H358.3" stroke="#555" stroke-width="0.5" fill="none"/>
<path d="M357.5 338L359 339L357.5 340Z" fill="#555"/>
<text x="359.3" y="341.3" font-size="6.6" fill="#333" textLength="23.2" lengthAdjust="spacingAndGlyphs" stroke="#333" stroke-width="0.05">B6Ly5.2]</text>
<text x="383.4" y="341.3" font-size="6.6" fill="#333" textLength="15.9" lengthAdjust="spacingAndGlyphs" stroke="#333" stroke-width="0.05">(n=8)</text>
<line x1="300.5" y1="348.8" x2="310.5" y2="348.8" stroke="#6dab3f" stroke-width="1.8" stroke-dasharray="1.2 1.2"/>
<path d="M303.9 347.52L307.1 347.52L305.5 350.4Z" fill="none" stroke="#6dab3f" stroke-width="0.9"/>
<text x="313.6" y="351.1" font-size="6.6" fill="#333" textLength="21.2" lengthAdjust="spacingAndGlyphs" stroke="#333" stroke-width="0.05">BALB/c</text>
<path d="M335.4 348.8H341.3" stroke="#555" stroke-width="0.5" fill="none"/>
<path d="M340.5 347.8L342 348.8L340.5 349.8Z" fill="#555"/>
<text x="342.3" y="351.1" font-size="6.6" fill="#333" textLength="19.8" lengthAdjust="spacingAndGlyphs" stroke="#333" stroke-width="0.05">[cIAP1</text>
<text x="362.9" y="347.9" font-size="3.4" fill="#555" textLength="2.6" lengthAdjust="spacingAndGlyphs">-/-</text>
<path d="M365.9 348.8H370.6" stroke="#555" stroke-width="0.5" fill="none"/>
<path d="M369.8 347.8L371.3 348.8L369.8 349.8Z" fill="#555"/>
<text x="371.8" y="351.1" font-size="6.6" fill="#333" textLength="24.5" lengthAdjust="spacingAndGlyphs" stroke="#333" stroke-width="0.05">B6Ly5.2]</text>
<text x="398.5" y="351.1" font-size="6.6" fill="#333" textLength="19.6" lengthAdjust="spacingAndGlyphs" stroke="#333" stroke-width="0.05">(n=10)</text>
<line x1="300.5" y1="358.9" x2="310.5" y2="358.9" stroke="#331a40" stroke-width="1.8" stroke-dasharray="1.5 1.2"/>
<path d="M305.5 357.3L306.78 358.9L305.5 360.5L304.22 358.9Z" fill="#331a40"/>
<text x="313.6" y="361.2" font-size="6.6" fill="#333" textLength="21.2" lengthAdjust="spacingAndGlyphs" stroke="#333" stroke-width="0.05">BALB/c</text>
<path d="M335.4 358.9H341.3" stroke="#555" stroke-width="0.5" fill="none"/>
<path d="M340.5 357.9L342 358.9L340.5 359.9Z" fill="#555"/>
<text x="342.3" y="361.2" font-size="6.6" fill="#333" textLength="16" lengthAdjust="spacingAndGlyphs" stroke="#333" stroke-width="0.05">[XIAP</text>
<text x="359.3" y="358" font-size="3.4" fill="#555" textLength="2.6" lengthAdjust="spacingAndGlyphs">-/-</text>
<path d="M362.5 358.9H367" stroke="#555" stroke-width="0.5" fill="none"/>
<path d="M366.2 357.9L367.7 358.9L366.2 359.9Z" fill="#555"/>
<text x="368.2" y="361.2" font-size="6.6" fill="#333" textLength="24.5" lengthAdjust="spacingAndGlyphs" stroke="#333" stroke-width="0.05">B6Ly5.2]</text>
<text x="395.5" y="361.2" font-size="6.6" fill="#333" textLength="19.9" lengthAdjust="spacingAndGlyphs" stroke="#333" stroke-width="0.05">(n=10)</text>
<rect x="0.5" y="0.5" width="519" height="369" fill="none" stroke="#000" stroke-width="1"/>
<rect x="1.5" y="1.5" width="517" height="367" fill="none" stroke="#000" stroke-width="1" stroke-opacity="0.28"/>
</svg>
</body></html>
